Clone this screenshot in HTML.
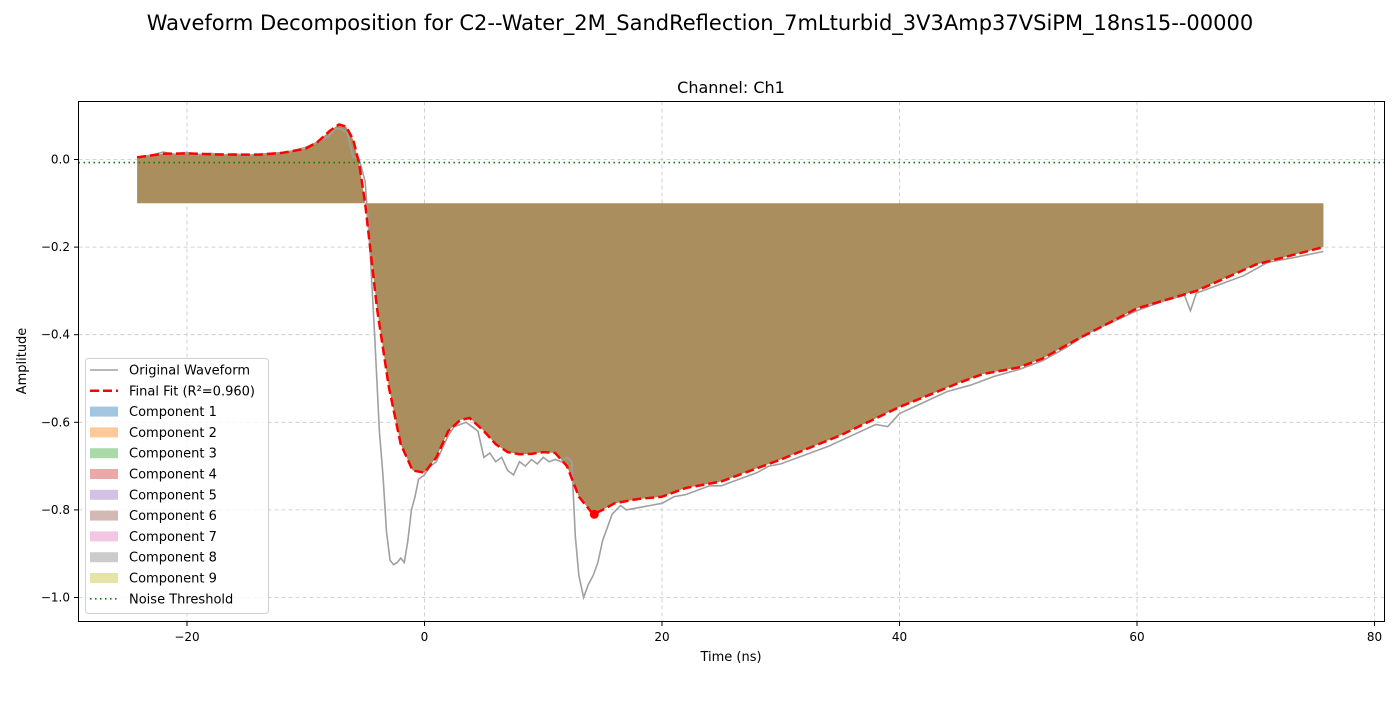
<!DOCTYPE html>
<html><head><meta charset="utf-8"><style>
body{margin:0;background:#fff;font-family:"DejaVu Sans","Liberation Sans",sans-serif;}
svg text{font-family:"DejaVu Sans","Liberation Sans",sans-serif;}
</style></head><body>
<svg id="chart" width="1400" height="700" viewBox="0 0 1400 700" xmlns="http://www.w3.org/2000/svg">
<text x="700" y="30" font-size="21" text-anchor="middle">Waveform Decomposition for C2--Water_2M_SandReflection_7mLturbid_3V3Amp37VSiPM_18ns15--00000</text>
<text x="731" y="93" font-size="16" text-anchor="middle">Channel: Ch1</text>
<g id="grid"></g>
<g id="plot"></g>
<rect x="78.5" y="101.5" width="1306" height="520" fill="none" stroke="#000" stroke-width="1"/>
<g id="ticks"></g>
<text x="731" y="661" font-size="13" text-anchor="middle">Time (ns)</text>
<text x="26" y="361" font-size="13" text-anchor="middle" transform="rotate(-90 26 361)">Amplitude</text>
<g id="legend"></g>
</svg>
<script>
const xTicks=[-20,0,20,40,60,80];
const yTicks=[0.0,-0.2,-0.4,-0.6,-0.8,-1.0];
const baseline=-0.1;
const noiseThreshold=-0.007;
const fitT=[-24.2,-22,-20,-18,-16,-14,-12,-10,-9,-8,-7.2,-6.6,-6,-5.5,-5,-4.5,-4,-3,-2,-1,0,1,2,3,3.8,5,6,7,8,9,10,11,12,13,14.2,15,16,18,20,22,25,28,30,35,40,45,47,50,52,55,60,65,70,75.7];
const fitV=[0.005,0.013,0.014,0.012,0.011,0.011,0.015,0.025,0.04,0.065,0.08,0.075,0.045,-0.01,-0.1,-0.22,-0.34,-0.52,-0.65,-0.71,-0.715,-0.68,-0.62,-0.595,-0.59,-0.62,-0.65,-0.668,-0.673,-0.672,-0.668,-0.67,-0.7,-0.77,-0.81,-0.8,-0.785,-0.775,-0.77,-0.75,-0.735,-0.705,-0.685,-0.63,-0.565,-0.51,-0.49,-0.475,-0.455,-0.41,-0.34,-0.3,-0.24,-0.2];
const waveT=[-24.2,-23,-22,-21,-20,-19,-18,-17,-16,-15,-14,-13,-12,-11,-10,-9,-8,-7.5,-7,-6.5,-6,-5.5,-5,-4.6,-4.2,-3.8,-3.5,-3.2,-2.9,-2.6,-2.3,-2,-1.7,-1.4,-1.1,-0.8,-0.5,0,0.5,1,1.5,2,2.5,3,3.5,4,4.5,5,5.5,6,6.5,7,7.5,8,8.5,9,9.5,10,10.5,11,11.5,12,12.4,12.7,13,13.4,13.8,14.2,14.6,15,15.4,15.8,16.5,17,18,19,20,21,22,23,24,25,26,27,28,29,30,32,34,36,38,39,40,42,44,46,48,50,52,54,56,58,60,62,64,64.5,65,67,69,71,73,75.7];
const waveV=[0.005,0.01,0.017,0.012,0.016,0.011,0.014,0.01,0.013,0.009,0.012,0.014,0.016,0.02,0.028,0.04,0.055,0.07,0.07,0.06,0.005,0.0,-0.05,-0.2,-0.4,-0.62,-0.72,-0.85,-0.915,-0.925,-0.92,-0.91,-0.92,-0.87,-0.8,-0.77,-0.73,-0.72,-0.7,-0.69,-0.66,-0.63,-0.61,-0.605,-0.6,-0.61,-0.62,-0.68,-0.67,-0.69,-0.68,-0.71,-0.72,-0.69,-0.7,-0.685,-0.695,-0.68,-0.69,-0.685,-0.69,-0.68,-0.69,-0.86,-0.95,-1.0,-0.97,-0.95,-0.92,-0.87,-0.84,-0.81,-0.79,-0.8,-0.795,-0.79,-0.785,-0.77,-0.765,-0.755,-0.745,-0.745,-0.735,-0.725,-0.715,-0.7,-0.695,-0.675,-0.655,-0.63,-0.605,-0.61,-0.58,-0.555,-0.53,-0.515,-0.495,-0.48,-0.46,-0.43,-0.395,-0.37,-0.345,-0.325,-0.31,-0.345,-0.305,-0.285,-0.265,-0.235,-0.225,-0.21];
const peakT=14.3, peakV=-0.81;
const legendLabels=["Original Waveform","Final Fit (R²=0.960)","Component 1","Component 2","Component 3","Component 4","Component 5","Component 6","Component 7","Component 8","Component 9","Noise Threshold"];
const compColors=["#a4c7e1","#ffc898","#a9daa8","#eca8a9","#d2c2e3","#d2b9b3","#f3c6e4","#cbcbcb","#e5e4a6"];

const X=t=>424.5+t*11.875;
const Y=v=>159.5-v*438;
const NS="http://www.w3.org/2000/svg";
function mk(parent,tag,attrs){const e=document.createElementNS(NS,tag);for(const k in attrs)e.setAttribute(k,attrs[k]);document.getElementById(parent).appendChild(e);return e;}

xTicks.forEach(t=>{
 const g=mk('grid','line',{x1:X(t),x2:X(t),y1:101.5,y2:621.5,stroke:'#b0b0b0','stroke-width':0.8,'stroke-dasharray':'4,3',opacity:0.7});
 
 
 const tk=mk('ticks','line',{x1:X(t),x2:X(t),y1:621.5,y2:626,stroke:'#000'});
 
 
 const tx=mk('ticks','text',{x:X(t),y:641,'font-size':12,'text-anchor':'middle'});
 tx.textContent=(t<0?'−':'')+Math.abs(t);
 
 
});
yTicks.forEach(v=>{
 const g=mk('grid','line',{x1:78.5,x2:1384.5,y1:Y(v),y2:Y(v),stroke:'#b0b0b0','stroke-width':0.8,'stroke-dasharray':'4,3',opacity:0.7});
 
 
 const tk=mk('ticks','line',{x1:74,x2:78.5,y1:Y(v),y2:Y(v),stroke:'#000'});
 
 
 const tx=mk('ticks','text',{x:70,y:Y(v)+4,'font-size':12,'text-anchor':'end'});
 tx.textContent=(v<0?'−':'')+Math.abs(v).toFixed(1);
 
 
});

// component fill between baseline and fit
let d='M'+X(fitT[0])+','+Y(baseline);
fitT.forEach((t,i)=>{d+=' L'+X(t)+','+Y(fitV[i]);});
d+=' L'+X(fitT[fitT.length-1])+','+Y(baseline)+' Z';
const fill=mk('plot','path',{d:d,fill:'#aa8e5e'});



const wave=mk('plot','polyline',{points:waveT.map((t,i)=>X(t)+','+Y(waveV[i])).join(' '),fill:'none',stroke:'#a0a0a0','stroke-width':1.6});



const nt=mk('plot','line',{x1:78.5,x2:1384.5,y1:Y(noiseThreshold),y2:Y(noiseThreshold),stroke:'#008000','stroke-width':1.6,'stroke-dasharray':'1.5,3.5'});



const fit=mk('plot','polyline',{points:fitT.map((t,i)=>X(t)+','+Y(fitV[i])).join(' '),fill:'none',stroke:'#ff0000','stroke-width':2.5,'stroke-dasharray':'9,4','stroke-linejoin':'round'});



const pk=mk('plot','circle',{cx:X(peakT),cy:Y(peakV),r:4.5,fill:'#ff0000'});



// legend
const box=mk('legend','rect',{x:85.5,y:358.5,width:183,height:255,rx:3,fill:'#fff','fill-opacity':0.8,stroke:'#d0d0d0'});


legendLabels.forEach((lab,i)=>{
 const cy=370+i*20.8;
 let icon;
 if(i===0) icon=mk('legend','line',{x1:90,x2:118,y1:cy,y2:cy,stroke:'#a0a0a0','stroke-width':1.6});
 else if(i===1) icon=mk('legend','line',{x1:90,x2:118,y1:cy,y2:cy,stroke:'#ff0000','stroke-width':2.5,'stroke-dasharray':'9,4'});
 else if(i===11) icon=mk('legend','line',{x1:90,x2:118,y1:cy,y2:cy,stroke:'#008000','stroke-width':1.6,'stroke-dasharray':'1.5,3.5'});
 else icon=mk('legend','rect',{x:90,y:cy-5,width:28,height:10,fill:compColors[i-2]});
 
 
 const tx=mk('legend','text',{x:129,y:cy+4.5,'font-size':13});
 tx.textContent=lab;
 
 
});
</script>
</body></html>
